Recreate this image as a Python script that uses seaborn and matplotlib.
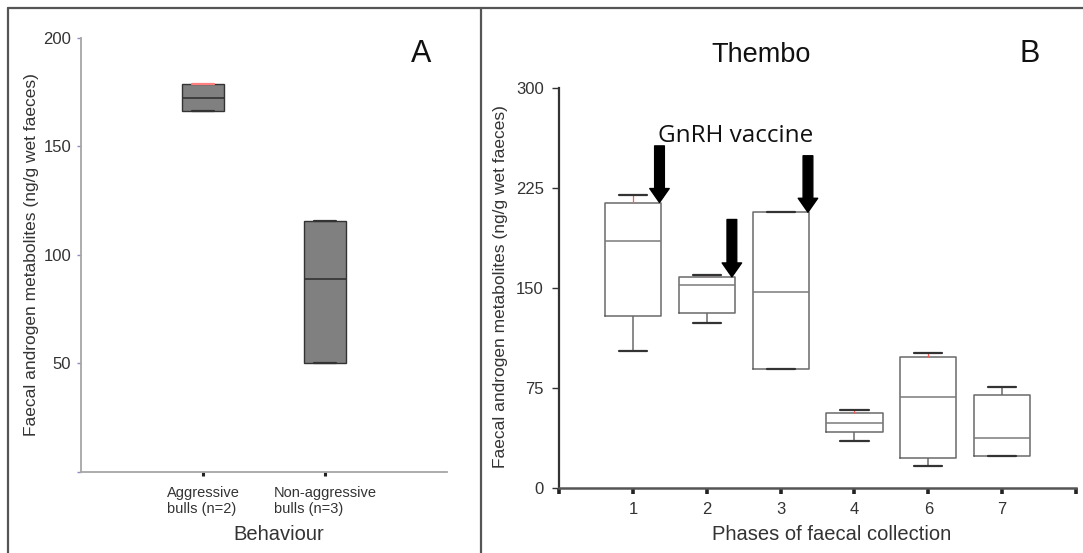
import numpy as np
import pandas as pd
import matplotlib.pyplot as plt
from matplotlib.lines import Line2D
import seaborn as sns

# Panel A: faecal androgen metabolites by behaviour (box summaries)
behaviour_groups = ['Aggressive\nbulls (n=2)', 'Non-aggressive\nbulls (n=3)']
behaviour_low = [166.4, 50.0]
behaviour_q1 = [166.4, 50.0]
behaviour_median = [172.4, 89.1]
behaviour_q3 = [178.8, 115.8]
behaviour_high = [178.8, 115.8]

# Panel B: Thembo, by phase of faecal collection
phases = ['1', '2', '3', '4', '6', '7']
phase_low = [102.4, 123.6, 88.9, 35.4, 16.4, 24.3]
phase_q1 = [128.9, 130.9, 88.9, 42.0, 22.4, 24.3]
phase_median = [185.6, 152.4, 147.2, 48.9, 68.0, 37.5]
phase_q3 = [213.9, 158.4, 206.9, 56.3, 98.4, 69.5]
phase_high = [220.1, 159.4, 206.9, 58.7, 101.3, 75.9]
red_whisker_phases = ['1', '2', '4', '6']

# GnRH vaccine arrows (phase axis position, tail, tip)
vaccine_x = [0.36, 1.34, 2.37]
vaccine_tail = [256.6, 201.4, 249.2]
vaccine_tip = [214.2, 158.4, 206.9]

sns.set_style('ticks')
plt.rcParams['font.family'] = ['Liberation Sans', 'DejaVu Sans']


def five_number_frame(groups, low, q1, med, q3, high, name):
	# five values per group, so quartiles land exactly on q1/median/q3
	rows = []
	for g, *vals in zip(groups, low, q1, med, q3, high):
		for v in vals:
			rows.append({name: g, 'value': v})
	return pd.DataFrame(rows)


df_a = five_number_frame(behaviour_groups, behaviour_low, behaviour_q1, behaviour_median,
						 behaviour_q3, behaviour_high, 'group')
df_b = five_number_frame(phases, phase_low, phase_q1, phase_median, phase_q3, phase_high, 'phase')

fig = plt.figure(figsize=(10.83, 5.53), dpi=100)
ax_a = fig.add_axes([0.0748, 0.1465, 0.338, 0.7848])
ax_b = fig.add_axes([0.5162, 0.1175, 0.4774, 0.7233])

# ---- panel A
sns.boxplot(data=df_a, x='group', y='value', order=behaviour_groups, ax=ax_a,
			width=0.35, whis=(0, 100), color='#808080', saturation=1,
			linecolor='#333333', linewidth=1.0,
			medianprops=dict(color='#333333', linewidth=1.2),
			capprops=dict(color='#333333', linewidth=1.6))
for line in ax_a.lines:
	xs = np.asarray(line.get_xdata(), float)
	ys = np.asarray(line.get_ydata(), float)
	if len(xs) == 2 and ys[0] == ys[1] and abs(xs[1] - xs[0]) < 0.25:
		if round(xs.mean()) == 0 and ys[0] == behaviour_high[0]:
			line.set_color('#ff7f7f')

ax_a.set_xlim(-1, 2)
ax_a.set_ylim(0, 200)
ax_a.set_yticks([0, 50, 100, 150, 200], ['', '50', '100', '150', '200'])
ax_a.tick_params(axis='y', length=3, width=1, color='#8c8cc8', pad=4,
				 labelsize=12, labelcolor='#333333')
ax_a.tick_params(axis='x', length=3, width=2.2, color='#222222', pad=7,
				 labelsize=10.5, labelcolor='#333333')
for lbl in ax_a.get_xticklabels():
	lbl.set_ha('center')
	lbl.set_multialignment('left')
sns.despine(ax=ax_a)
for side in ['left', 'bottom']:
	ax_a.spines[side].set_color('#a6a6a6')
	ax_a.spines[side].set_linewidth(1.3)
ax_a.set_xlabel('Behaviour', fontsize=14.5, color='#333333')
ax_a.set_ylabel('Faecal androgen metabolites (ng/g wet faeces)', fontsize=12.5, color='#333333')
ax_a.xaxis.set_label_coords(0.541, -0.122)
ax_a.yaxis.set_label_coords(-0.114, 0.502)

# ---- panel B
sns.boxplot(data=df_b, x='phase', y='value', order=phases, ax=ax_b,
			width=0.76, whis=(0, 100), fill=False, color='#6a6a6a',
			linewidth=1.1,
			boxprops=dict(color='#6a6a6a'),
			whiskerprops=dict(color='#6a6a6a'),
			medianprops=dict(color='#7a7a7a', linewidth=1.1),
			capprops=dict(color='#333333', linewidth=1.6))
for line in ax_b.lines:
	xs = np.asarray(line.get_xdata(), float)
	ys = np.asarray(line.get_ydata(), float)
	if len(xs) == 2 and xs[0] == xs[1] and ys[0] != ys[1]:
		i = int(round(xs[0]))
		if phases[i] in red_whisker_phases and ys.min() >= phase_median[i]:
			line.set_color('#ff5a5a')
			line.set_linewidth(0.9)

for x, tail, tip in zip(vaccine_x, vaccine_tail, vaccine_tip):
	ax_b.annotate('', xy=(x, tip), xytext=(x, tail),
				  arrowprops=dict(facecolor='black', edgecolor='black',
								  width=7, headwidth=14, headlength=10, shrink=0))
ax_b.text(1.39, 264, 'GnRH vaccine', fontsize=17.5, family=['Open Sans', 'DejaVu Sans'],
		  ha='center', va='center', color='#111111')

ax_b.set_xlim(-1, 6)
ax_b.set_ylim(0, 300)
ax_b.set_xticks(range(-1, 7), [''] + phases + [''])
ax_b.set_yticks([0, 75, 150, 225, 300])
ax_b.tick_params(axis='y', length=5, width=1, color='#333333', pad=6,
				 labelsize=12, labelcolor='#333333')
ax_b.tick_params(axis='x', length=4, width=2.6, color='#222222', pad=6,
				 labelsize=12, labelcolor='#333333')
sns.despine(ax=ax_b)
ax_b.spines['left'].set_color('#333333')
ax_b.spines['left'].set_linewidth(1.6)
ax_b.spines['bottom'].set_color('#555555')
ax_b.spines['bottom'].set_linewidth(1.8)
ax_b.set_xlabel('Phases of faecal collection', fontsize=14.5, color='#333333')
ax_b.set_ylabel('Faecal androgen metabolites (ng/g wet faeces)', fontsize=12.5, color='#333333')
ax_b.xaxis.set_label_coords(0.528, -0.093)
ax_b.yaxis.set_label_coords(-0.099, 0.504)

# ---- titles and panel letters
fig.text(0.3887, 0.902, 'A', fontsize=22, ha='center', va='center', color='#111111')
fig.text(0.951, 0.903, 'B', fontsize=22, ha='center', va='center', color='#111111')
fig.text(0.7027, 0.9005, 'Thembo', fontsize=19.5, ha='center', va='center', color='#111111')

# ---- outer frame and divider
frame_kw = dict(transform=fig.transFigure, color='#555555', linewidth=1.6)
fig.add_artist(Line2D([8 / 1083, 1], [1 - 8 / 553, 1 - 8 / 553], **frame_kw))
fig.add_artist(Line2D([8 / 1083, 8 / 1083], [0, 1 - 8 / 553], **frame_kw))
fig.add_artist(Line2D([481 / 1083, 481 / 1083], [0, 1 - 8 / 553], **frame_kw))

fig.savefig('out.png', dpi=100)
plt.close(fig)
